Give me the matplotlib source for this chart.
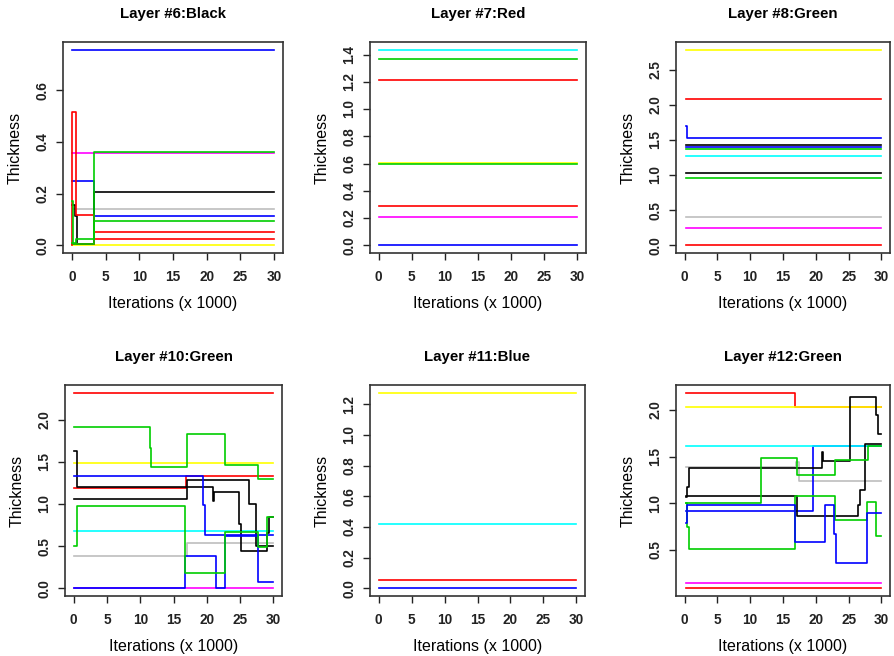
import matplotlib.pyplot as plt

plt.rcParams['font.family'] = ['Liberation Sans', 'DejaVu Sans']

# R's default palette
BLACK, RED, GREEN, BLUE = 'black', '#FF0000', '#00CD00', '#0000FF'
CYAN, MAGENTA, YELLOW, GRAY = '#00FFFF', '#FF00FF', '#FFFF00', '#BEBEBE'

# each run is (change points in thousands of iterations, thickness after each change)
layer6_runs = [
    ([0, 30], [0.0]),
    ([0.3, 30], [0.14]),
    ([0, 30], [0.357]),
    ([0, 30], [0.756]),
    ([0, 3.24, 30], [0.247, 0.112]),
    ([0, 0.5, 0.75, 3.24, 30], [0.155, 0.115, 0.005, 0.206]),
    ([0, 0.1, 0.7, 3.24, 30], [0.0, 0.515, 0.117, 0.051]),
    ([0, 3.24, 30], [0.004, 0.024]),
    ([0, 0.2, 3.24, 30], [0.17, 0.004, 0.36]),
    ([0, 0.7, 3.24, 30], [0.01, 0.024, 0.095]),
]
layer6_cols = [YELLOW, GRAY, MAGENTA, BLUE, BLUE, BLACK, RED, RED, GREEN, GREEN]

layer7_runs = [
    ([0, 30], [0.0]),
    ([0, 30], [0.21]),
    ([0, 30], [0.286]),
    ([0, 30], [0.602]),
    ([0, 30], [0.598]),
    ([0, 30], [1.21]),
    ([0, 30], [1.366]),
    ([0, 30], [1.435]),
]
layer7_cols = [BLUE, MAGENTA, RED, YELLOW, GREEN, RED, GREEN, CYAN]

layer8_runs = [
    ([0.15, 30], [0.0]),
    ([0.15, 30], [0.239]),
    ([0.15, 30], [0.406]),
    ([0.15, 30], [0.961]),
    ([0.15, 30], [1.028]),
    ([0.15, 30], [1.27]),
    ([0.15, 30], [1.367]),
    ([0.15, 30], [1.424]),
    ([0.15, 30], [1.405]),
    ([0.15, 0.4, 30], [1.70, 1.523]),
    ([0.15, 30], [2.079]),
    ([0.15, 30], [2.782]),
]
layer8_cols = [RED, MAGENTA, GRAY, GREEN, BLACK, CYAN, GREEN, BLACK, BLUE, BLUE, RED, YELLOW]

layer10_runs = [
    ([0, 30], [2.32]),
    ([0, 30], [1.49]),
    ([0, 30], [0.678]),
    ([0, 30], [0.0]),
    ([0, 17.0, 30], [0.377, 0.533]),
    ([0, 16.85, 30], [1.188, 1.335]),
    ([0, 0.5, 20.93, 21.05, 24.9, 25.1, 29.1, 29.3, 30],
     [1.632, 1.2, 1.04, 1.142, 0.765, 0.437, 0.66, 0.845]),
    ([0, 17.04, 26.35, 27.4, 30], [1.064, 1.282, 0.995, 0.505]),
    ([0, 19.43, 19.7, 30], [1.334, 0.99, 0.637]),
    ([0, 16.8, 21.37, 22.77, 27.65, 30], [0.0, 0.386, 0.0, 0.617, 0.079]),
    ([0, 11.45, 11.6, 17.05, 22.8, 27.75, 30], [1.911, 1.66, 1.434, 1.832, 1.461, 1.296]),
    ([0, 0.5, 16.8, 22.77, 27.75, 29.1, 30], [0.497, 0.971, 0.175, 0.664, 0.485, 0.844]),
]
layer10_cols = [RED, YELLOW, CYAN, MAGENTA, GRAY, RED, BLACK, BLACK, BLUE, BLUE, GREEN, GREEN]

layer11_runs = [
    ([0, 30], [1.274]),
    ([0, 30], [0.42]),
    ([0, 30], [0.052]),
    ([0, 30], [0.0]),
]
layer11_cols = [YELLOW, CYAN, RED, BLUE]

layer12_runs = [
    ([0.2, 30], [0.091]),
    ([0.2, 30], [0.151]),
    ([0.2, 16.8, 30], [2.18, 2.035]),
    ([0.2, 30], [2.035]),
    ([0.2, 17.0, 17.4, 30], [1.386, 1.44, 1.238]),
    ([0.2, 19.6, 30], [0.915, 1.615]),
    ([0.2, 30], [1.615]),
    ([0.2, 0.45, 0.7, 20.9, 21.1, 25.2, 29.1, 29.4, 30],
     [1.07, 1.17, 1.383, 1.55, 1.45, 2.143, 1.95, 1.74]),
    ([0.2, 17.2, 26.35, 26.7, 27.5, 30], [1.074, 0.866, 0.98, 1.14, 1.63]),
    ([0.2, 11.6, 17.1, 22.86, 28.0, 30], [1.002, 1.48, 1.3, 1.461, 1.615]),
    ([0.2, 0.45, 0.7, 16.8, 22.86, 27.75, 29.15, 30],
     [1.0, 0.75, 0.507, 1.075, 0.816, 1.012, 0.646]),
    ([0.2, 0.35, 16.8, 21.47, 22.76, 23.0, 27.75, 30],
     [0.79, 0.977, 0.582, 0.977, 0.67, 0.356, 0.894]),
]
layer12_cols = [RED, MAGENTA, RED, YELLOW, GRAY, BLUE, CYAN, BLACK, BLACK, GREEN, GREEN, BLUE]

panels = [
    ('Layer #6:Black', layer6_runs, layer6_cols, (-0.03, 0.786), [0.0, 0.2, 0.4, 0.6]),
    ('Layer #7:Red', layer7_runs, layer7_cols, (-0.057, 1.492),
     [0.0, 0.2, 0.4, 0.6, 0.8, 1.0, 1.2, 1.4]),
    ('Layer #8:Green', layer8_runs, layer8_cols, (-0.111, 2.893),
     [0.0, 0.5, 1.0, 1.5, 2.0, 2.5]),
    ('Layer #10:Green', layer10_runs, layer10_cols, (-0.093, 2.413),
     [0.0, 0.5, 1.0, 1.5, 2.0]),
    ('Layer #11:Blue', layer11_runs, layer11_cols, (-0.051, 1.325),
     [0.0, 0.2, 0.4, 0.6, 0.8, 1.0, 1.2]),
    ('Layer #12:Green', layer12_runs, layer12_cols, (0.007, 2.267),
     [0.5, 1.0, 1.5, 2.0]),
]

# axes boxes in pixels: left, top, right, bottom
boxes = [
    (63, 42, 283, 253), (370, 42, 586, 253), (676, 42, 890, 253),
    (65, 385, 282, 596), (370, 385, 585, 596), (676, 385, 890, 596),
]

W, H = 894, 656
fig = plt.figure(figsize=(W / 100, H / 100), dpi=100)

for (title, runs, cols, ylim, yticks), (l, t, r, b) in zip(panels, boxes):
    ax = fig.add_axes([l / W, 1 - b / H, (r - l) / W, (b - t) / H])
    for (xs, ys), c in zip(runs, cols):
        ax.step(xs, ys + [ys[-1]], where='post', color=c, lw=1.2)
    ax.set_xlim(-1.3, 31.3)
    ax.set_ylim(*ylim)
    ax.set_xticks([0, 5, 10, 15, 20, 25, 30])
    ax.set_yticks(yticks)
    ax.set_yticklabels(['%.1f' % v for v in yticks], rotation=90, va='center')
    ax.tick_params(length=5, width=1.0, color='#222222', labelsize=9.8)
    ax.tick_params(axis='x', pad=7)
    ax.tick_params(axis='y', pad=5)
    for lab in ax.get_xticklabels() + ax.get_yticklabels():
        lab.set_fontweight('bold')
        lab.set_color('#222222')
    for sp in ax.spines.values():
        sp.set_linewidth(1.2)
        sp.set_color('#333333')
    ax.set_xlabel('Iterations (x 1000)', fontsize=11.5, va='center')
    ax.set_ylabel('Thickness', fontsize=11.5, va='center')
    ax.xaxis.set_label_coords(0.5, -50 / (b - t))
    ax.yaxis.set_label_coords(-48 / (r - l), 0.5)
    ax.text(0.5, 1 + 28 / (b - t), title, transform=ax.transAxes,
            ha='center', va='center', fontsize=10.8, fontweight='bold')

fig.savefig('out.png', dpi=100)
